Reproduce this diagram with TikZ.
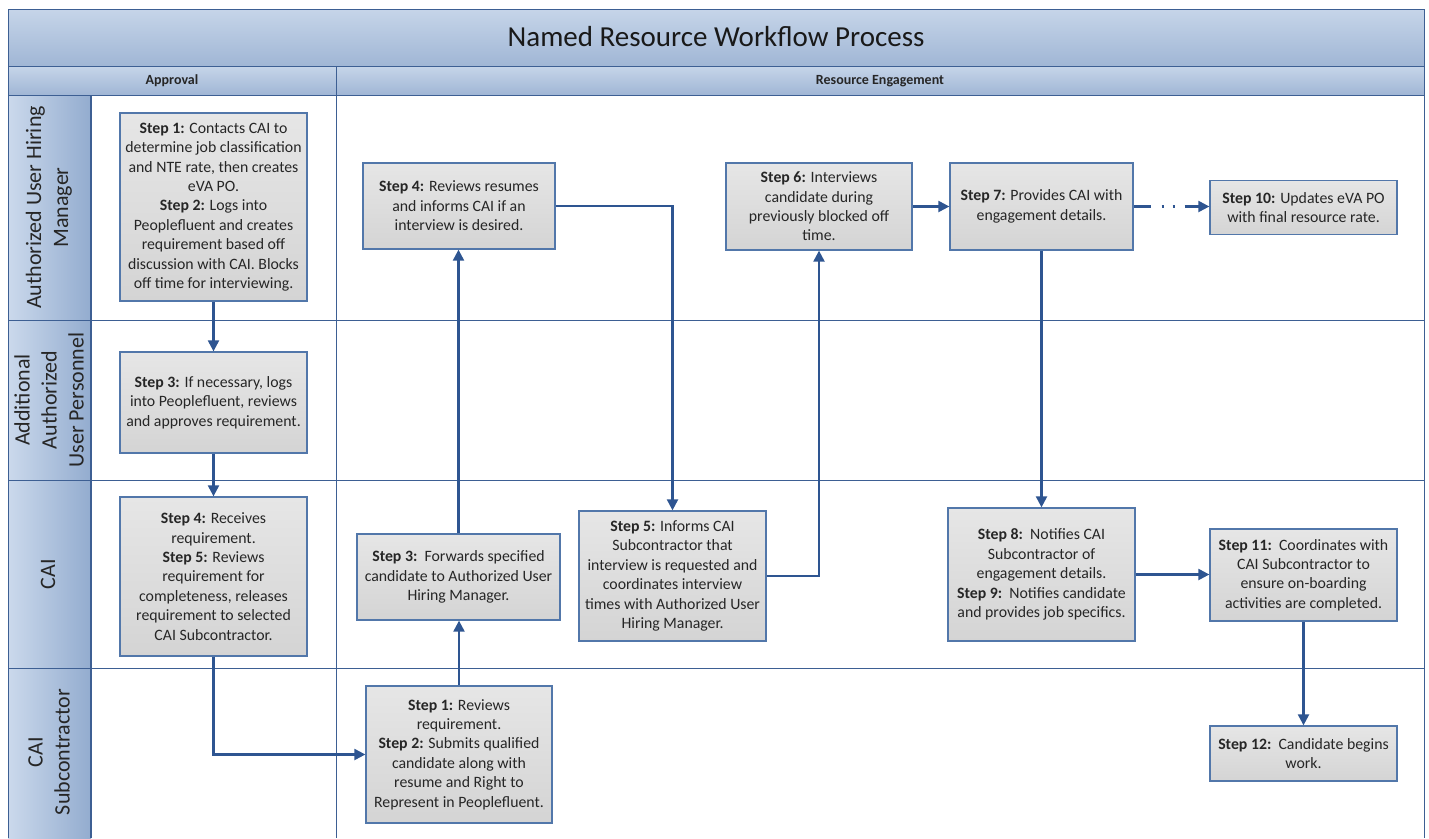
\documentclass[tikz,border=0pt]{standalone}
\usepackage{fontspec}
\setmainfont{Carlito}
\usetikzlibrary{arrows.meta}
\definecolor{frame}{HTML}{3D5F93}
\definecolor{arrowc}{HTML}{2E5591}
\definecolor{boxline}{HTML}{5277AA}
\definecolor{hdtop}{HTML}{C6D5E9}
\definecolor{hdbot}{HTML}{A0B6D5}
\definecolor{lnleft}{HTML}{CBD9EC}
\definecolor{lnright}{HTML}{93ACCF}
\definecolor{boxtop}{HTML}{E6E6E6}
\definecolor{boxbot}{HTML}{D4D4D4}
\tikzset{
  stepbox/.style={draw=boxline, line width=1.3pt, top color=boxtop, bottom color=boxbot,
    align=center, inner sep=2pt, font=\fontsize{15.8}{19.4}\selectfont, text=black!85},
  flow/.style={draw=arrowc, line width=2.2pt, -{Triangle[length=11pt,width=11pt]}},
  grid/.style={draw=frame, line width=0.9pt},
  lanelabel/.style={rotate=90, align=center, font=\fontsize{22}{27}\selectfont, text=black!85},
  hdr/.style={font=\fontsize{14}{16}\selectfont\bfseries, text=black!85}
}
\begin{document}
\begin{tikzpicture}[x=1pt,y=-1pt]
\useasboundingbox (0,0) rectangle (1429,838);
% header bands
\path[top color=hdtop, bottom color=hdbot] (8,9) rectangle (1424,66);
\path[top color=hdtop, bottom color=hdbot] (8,66) rectangle (1424,95);
% lane label column
\path[left color=lnleft, right color=lnright] (8,95) rectangle (91,838);
% grid lines
\draw[grid] (8,838) -- (8,9) -- (1424,9) -- (1424,838);
\draw[grid] (8,66) -- (1424,66);
\draw[grid] (8,95) -- (1424,95);
\draw[grid] (336,66) -- (336,838);
\draw[grid, line width=1.6pt] (91,95) -- (91,838);
\draw[grid] (8,320) -- (1424,320);
\draw[grid] (8,480) -- (1424,480);
\draw[grid] (8,668) -- (1424,668);
% titles
\node[font=\fontsize{29}{33}\selectfont, text=black!90] (title) at (716,37) {Named Resource Workflow Process};
\node[hdr] (approval) at (172,81) {Approval};
\node[hdr] (engage) at (880,81) {Resource Engagement};
% lane labels
\node[lanelabel] (l1) at (49,207.5) {Authorized User Hiring\\Manager};
\node[lanelabel] (l2) at (49,400) {Additional\\Authorized\\User Personnel};
\node[lanelabel] (l3) at (48,574) {CAI};
\node[lanelabel] (l4) at (49,752) {CAI\\Subcontractor};
% boxes
\node[stepbox, minimum width=187pt, minimum height=188pt] (A1) at (213.5,207)
 {\textbf{Step 1:} Contacts CAI to\\determine job classification\\and NTE rate, then creates\\eVA PO.\\\textbf{Step 2:} Logs into\\Peoplefluent and creates\\requirement based off\\discussion with CAI. Blocks\\off time for interviewing.};
\node[stepbox, minimum width=187pt, minimum height=101pt] (A3) at (213.5,402.5)
 {\textbf{Step 3:} If necessary, logs\\into Peoplefluent, reviews\\and approves requirement.};
\node[stepbox, minimum width=187pt, minimum height=159pt] (A45) at (213.5,576.5)
 {\textbf{Step 4:} Receives\\requirement.\\\textbf{Step 5:} Reviews\\requirement for\\completeness, releases\\requirement to selected\\CAI Subcontractor.};
\node[stepbox, minimum width=186pt, minimum height=137pt] (S12) at (459,754.5)
 {\textbf{Step 1:} Reviews\\requirement.\\\textbf{Step 2:} Submits qualified\\candidate along with\\resume and Right to\\Represent in Peoplefluent.};
\node[stepbox, minimum width=203pt, minimum height=86pt] (C3) at (458.5,577)
 {\textbf{Step 3:}\ \ Forwards specified\\candidate to Authorized User\\Hiring Manager.};
\node[stepbox, minimum width=192pt, minimum height=86pt] (H4) at (459,206)
 {\textbf{Step 4:} Reviews resumes\\and informs CAI if an\\interview is desired.};
\node[stepbox, minimum width=187pt, minimum height=130pt] (C5) at (672.5,576)
 {\textbf{Step 5:} Informs CAI\\Subcontractor that\\interview is requested and\\coordinates interview\\times with Authorized User\\Hiring Manager.};
\node[stepbox, minimum width=186pt, minimum height=87pt] (H6) at (819,206.5)
 {\textbf{Step 6:} Interviews\\candidate during\\previously blocked off\\time.};
\node[stepbox, minimum width=183pt, minimum height=87pt] (H7) at (1041.5,206.5)
 {\textbf{Step 7:} Provides CAI with\\engagement details.};
\node[stepbox, minimum width=187pt, minimum height=54pt] (H10) at (1303.5,207.5)
 {\textbf{Step 10:} Updates eVA PO\\with final resource rate.};
\node[stepbox, minimum width=187pt, minimum height=133pt] (C89) at (1041.5,574.5)
 {\textbf{Step 8:}\ \ Notifies CAI\\Subcontractor of\\engagement details.\\\textbf{Step 9:}\ \ Notifies candidate\\and provides job specifics.};
\node[stepbox, minimum width=187pt, minimum height=92pt] (C11) at (1303.5,575)
 {\textbf{Step 11:}\ \ Coordinates with\\CAI Subcontractor to\\ensure on-boarding\\activities are completed.};
\node[stepbox, minimum width=187pt, minimum height=55pt] (S12b) at (1303.5,753.5)
 {\textbf{Step 12:}\ \ Candidate begins\\work.};
% connectors
\draw[flow] (A1.south) -- (A3.north);
\draw[flow] (A3.south) -- (A45.north);
\draw[flow] (A45.south) |- (S12.west);
\draw[flow] (S12.north) -- (S12.north |- C3.south);
\draw[flow] (C3.north) -- (C3.north |- H4.south);
\draw[flow] (H4.east) -| (C5.north);
\draw[flow] (C5.east) -| (H6.south);
\draw[flow] (H6.east) -- (H7.west);
\draw[flow, dash pattern=on 17pt off 11pt on 2pt off 9pt on 2pt off 10pt on 40pt] (H7.east) -- (H7.east -| H10.west);
\draw[flow] (H7.south) -- (H7.south |- C89.north);
\draw[flow] (C89.east) -- (C89.east -| C11.west);
\draw[flow] (C11.south) -- (C11.south |- S12b.north);
\end{tikzpicture}
\end{document}
